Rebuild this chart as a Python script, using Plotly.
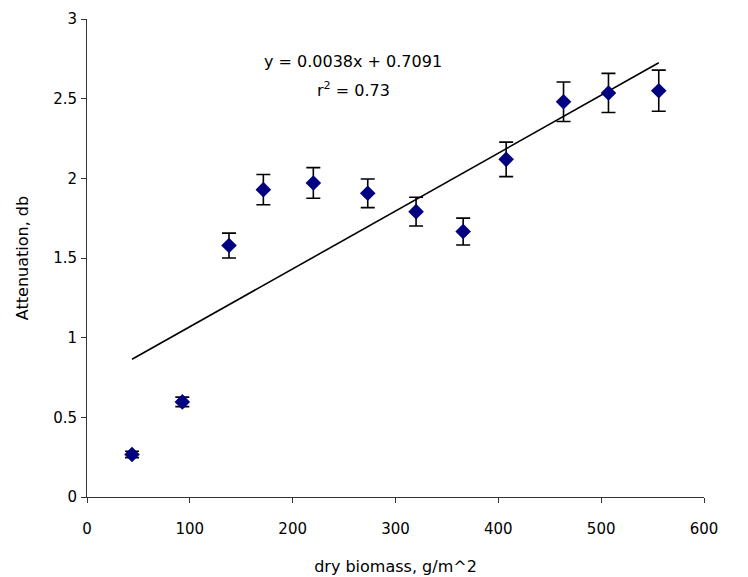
import numpy as np
import plotly.graph_objects as go

biomass = [43.8, 92.7, 138.1, 171.5, 220.1, 273.0, 320.0, 365.8, 407.6, 463.4, 507.1, 556.0]
attenuation = [0.267, 0.597, 1.578, 1.929, 1.971, 1.906, 1.791, 1.666, 2.119, 2.481, 2.536, 2.550]
err = [0.020, 0.030, 0.078, 0.095, 0.096, 0.090, 0.090, 0.084, 0.108, 0.124, 0.123, 0.129]

eq_text = "y = 0.0038x + 0.7091"
r2_text = "r<sup>2</sup> = 0.73"

x_ticks = [0, 100, 200, 300, 400, 500, 600]
y_ticks = [0, 0.5, 1, 1.5, 2, 2.5, 3]

slope, intercept = np.polyfit(biomass, attenuation, 1)
xl = np.array([min(biomass), max(biomass)])
yl = slope * xl + intercept

font = "DejaVu Sans, Arial, sans-serif"

fig = go.Figure()
fig.add_trace(go.Scatter(
    x=xl, y=yl, mode="lines",
    line=dict(color="black", width=1.6),
    showlegend=False, hoverinfo="skip"))
fig.add_trace(go.Scatter(
    x=biomass, y=attenuation, mode="markers",
    marker=dict(symbol="diamond", size=12, color="#000080"),
    error_y=dict(type="data", array=err, visible=True, color="black",
                 thickness=1.6, width=7),
    showlegend=False))

fig.add_annotation(x=259, y=2.735, xref="x", yref="y", text=eq_text,
                   showarrow=False, font=dict(family=font, size=16, color="black"))
fig.add_annotation(x=259, y=2.556, xref="x", yref="y", text=r2_text,
                   showarrow=False, font=dict(family=font, size=16, color="black"))

axis_common = dict(showgrid=False, zeroline=False, showline=True,
                   linecolor="#333333", linewidth=1, ticks="outside",
                   ticklen=5, tickcolor="#333333", tickwidth=1,
                   automargin=False,
                   tickfont=dict(family=font, size=15, color="black"))

fig.update_layout(
    width=748, height=577,
    margin=dict(l=87, r=44, t=19, b=80),
    paper_bgcolor="white", plot_bgcolor="white",
    xaxis=dict(range=[0, 600], tickvals=x_ticks, ticklabelstandoff=13,
               title=dict(text="dry biomass, g/m^2", standoff=23,
                          font=dict(family=font, size=16, color="black")),
               **axis_common),
    yaxis=dict(range=[0, 3], tickvals=y_ticks, ticklabelstandoff=1,
               title=dict(text="Attenuation, db", standoff=20,
                          font=dict(family=font, size=16, color="black")),
               **axis_common),
)

fig.write_html("out.html")
